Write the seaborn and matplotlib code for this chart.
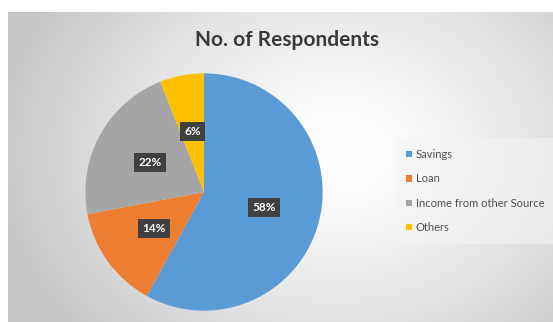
import numpy as np
import matplotlib
matplotlib.use("Agg")
import matplotlib.pyplot as plt
import seaborn as sns
from matplotlib.patches import Rectangle

categories = ["Savings", "Loan", "Income from other Source", "Others"]
values = [58, 14, 22, 6]
colors = ["#5B9BD5", "#ED7D31", "#A5A5A5", "#FFC000"]
title = "No. of Respondents"

sns.set_theme(style="white")
plt.rcParams["font.family"] = ["Lato", "DejaVu Sans"]

W, H = 553, 322
fig = plt.figure(figsize=(W / 100, H / 100), dpi=100)
fig.patch.set_facecolor("white")

# background gradient panel
bg = fig.add_axes([8 / W, 0, (W - 8) / W, (H - 12) / H])
bg.set_axis_off()
ny, nx = 310, 545
yy, xx = np.mgrid[0:ny, 0:nx]
cx, cy = 330, 140
d = np.sqrt(((xx - cx) / 340.0) ** 2 + ((yy - cy) / 270.0) ** 2)
d = np.clip(d, 0, 1)
lev = 1.0 - 0.22 * d ** 1.4
img = np.dstack([lev, lev, lev])
bg.imshow(img, aspect="auto", extent=[0, 1, 0, 1], origin="upper")
bg.set_xlim(0, 1)
bg.set_ylim(0, 1)

# pie axes
cxp, cyp, r = 204, 192, 121
ax = fig.add_axes([(cxp - r) / W, (H - cyp - r) / H, 2 * r / W, 2 * r / H])
ax.set_axis_off()
wedges, texts, autotexts = ax.pie(
    values, colors=colors, startangle=90, counterclock=False,
    autopct="%d%%", pctdistance=0.52, radius=1.0,
    wedgeprops=dict(linewidth=0),
    textprops=dict(color="white", fontsize=8.5, fontweight="bold"))
for t in autotexts:
    t.set_bbox(dict(boxstyle="square,pad=0.35", facecolor="#404040", edgecolor="none"))
ax.set_xlim(-1.02, 1.02)
ax.set_ylim(-1.02, 1.02)

fig.text(287 / W, 1 - 40 / H, title, ha="center", va="center",
         fontsize=15, fontweight="bold", color="#3a3a3a")

handles = [Rectangle((0, 0), 1, 1, facecolor=c, edgecolor="none") for c in colors]
leg = fig.legend(handles, categories, loc="center left",
                 bbox_to_anchor=(393 / W, 1 - 191 / H), frameon=True,
                 fontsize=8, handlelength=0.5, handleheight=0.5,
                 handletextpad=0.35, labelspacing=1.2, borderpad=0.7)
leg.get_frame().set_facecolor("#f4f4f4")
leg.get_frame().set_alpha(0.6)
leg.get_frame().set_edgecolor("none")
leg.get_frame().set_boxstyle("square")
for t in leg.get_texts():
    t.set_color("#505050")

fig.savefig("out.png", dpi=100)
